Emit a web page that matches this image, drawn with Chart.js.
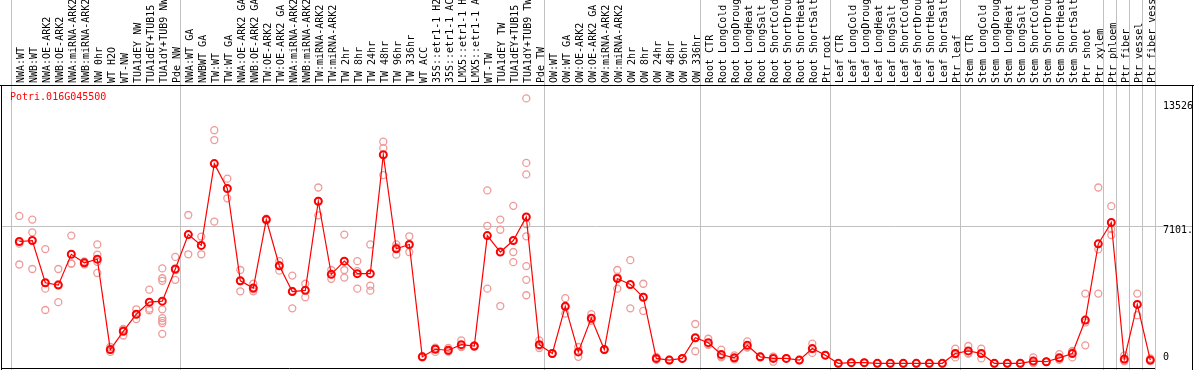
<!DOCTYPE html>
<html>
<head>
<meta charset="utf-8">
<script src="https://cdn.jsdelivr.net/npm/chart.js@4"></script>
<style>
  html, body { margin: 0; padding: 0; background: #fff; }
  #chart { display: block; }
</style>
</head>
<body>
<canvas id="chart" width="1194" height="370"></canvas>
<script>
// --- chart data ---
const geneName = 'Potri.016G045500';

const categories = [
    'NWA:WT', 'NWB:WT', 'NWA:OE-ARK2', 'NWB:OE-ARK2', 'NWA:miRNA-ARK2', 'NWB:miRNA-ARK2',
    'NW 0hr', 'WT H2O', 'WT-NW', 'TUA1dEY NW', 'TUA1dEY+TUB15 NW', 'TUA1dY+TUB9 NW', 'Pde NW',
    'NWA:WT GA', 'NWBWT GA', 'TW:WT', 'TW:WT GA', 'NWA:OE-ARK2 GA', 'NWB:OE-ARK2 GA',
    'TW:OE-ARK2', 'TW:OE-ARK2 GA', 'NWA:miRNA-ARK2 GA', 'NWB:miRNA-ARK2 GA', 'TW:miRNA-ARK2',
    'TW:miRNA-ARK2 GA', 'TW 2hr', 'TW 8hr', 'TW 24hr', 'TW 48hr', 'TW 96hr', 'TW 336hr',
    'WT ACC', '35S::etr1-1 H2O', '35S::etr1-1 ACC', 'LMX5::etr1-1 H2O', 'LMX5::etr1-1 ACC',
    'WT-TW', 'TUA1dEY TW', 'TUA1dEY+TUB15 TW', 'TUA1dY+TUB9 TW', 'Pde TW',
    'OW:WT', 'OW:WT GA', 'OW:OE-ARK2', 'OW:OE-ARK2 GA', 'OW:miRNA-ARK2', 'OW:miRNA-ARK2 GA',
    'OW 2hr', 'OW 8hr', 'OW 24hr', 'OW 48hr', 'OW 96hr', 'OW 336hr',
    'Root CTR', 'Root LongCold', 'Root LongDrought', 'Root LongHeat', 'Root LongSalt',
    'Root ShortCold', 'Root ShortDrought', 'Root ShortHeat', 'Root ShortSalt', 'Ptr root',
    'Leaf CTR', 'Leaf LongCold', 'Leaf LongDrought', 'Leaf LongHeat', 'Leaf LongSalt',
    'Leaf ShortCold', 'Leaf ShortDrought', 'Leaf ShortHeat', 'Leaf ShortSalt', 'Ptr leaf',
    'Stem CTR', 'Stem LongCold', 'Stem LongDrought', 'Stem LongHeat', 'Stem LongSalt',
    'Stem ShortCold', 'Stem ShortDrought', 'Stem ShortHeat', 'Stem ShortSalt', 'Ptr shoot',
    'Ptr xylem', 'Ptr phloem', 'Ptr fiber', 'Ptr vessel', 'Ptr fiber vessel'
];

const meanValues = [
    6308, 6357, 4226, 4108, 5663, 5232, 5416, 857, 1779, 2641, 3250, 3300, 4920,
    6655, 6110, 10237, 8983, 4326, 3959, 7413, 5084, 3781, 3845, 8339, 4653, 5317,
    4687, 4687, 10683, 5941, 6159, 491, 872, 823, 1105, 1036, 6605, 5778, 6357, 7546,
    1105, 659, 3037, 738, 2443, 857, 4440, 4142, 3498, 411, 327, 411, 1452,
    1204, 609, 441, 1070, 491, 411, 411, 327, 907, 575,
    163, 198, 198, 163, 163, 163, 163, 163, 163, 659,
    788, 659, 163, 163, 163, 277, 244, 441, 659, 2344,
    6189, 7264, 377, 3136, 327
];

const replicateValues = [
    [7596, 6200, 5148], [7413, 6769, 4920], [5926, 3929, 2854], [4920, 3250, 4150],
    [6605, 5198, 5190], [5232, 5150, 5300], [6159, 5644, 5282, 4722], [986, 738, 850],
    [1566, 1900, 1870], [2889, 2393, 2640], [3880, 2919, 2839],
    [4950, 4455, 4326, 2889, 2443, 2309, 2195, 1650], [5530, 4375, 4860],
    [7646, 5663, 6650], [6555, 5663, 6110], [11922, 11426, 7314], [9479, 8488, 8980],
    [4871, 3796, 4310], [4177, 3796, 3900], [7462, 7413, 7360], [5317, 4836, 5100],
    [4588, 2938, 3820], [4177, 3498, 3860], [9033, 7626, 8360], [4871, 4425, 4660],
    [6655, 4871, 4489], [5317, 3929, 4810], [6159, 4078, 3830], [11342, 11015, 9657],
    [6159, 5644, 6020], [6570, 5778, 6130], [491, 520, 460], [738, 950, 920],
    [937, 760, 770], [1318, 986, 1010], [1036, 1000, 1070], [8884, 7100, 3929],
    [7413, 6902, 3052], [8106, 5778, 5267],
    [13526, 10272, 9692, 7180, 6570, 5069, 4375, 3597], [1318, 937, 1060],
    [659, 640, 680], [3449, 2671, 2990], [986, 491, 740], [2641, 2309, 2380],
    [857, 830, 880], [4871, 3929, 4520], [5366, 2938, 4120], [4177, 2805, 3510],
    [491, 340, 400], [327, 300, 350], [411, 390, 430], [2146, 773, 1440],
    [1402, 1100, 1110], [857, 461, 510], [560, 400, 360], [1268, 960, 980],
    [491, 470, 510], [244, 500, 490], [411, 400, 420], [327, 310, 340],
    [1155, 689, 880], [575, 560, 590],
    [163, 170, 160], [198, 190, 205], [198, 200, 190], [163, 160, 170], [163, 165, 160],
    [163, 160, 168], [163, 166, 160], [163, 160, 165], [163, 170, 160], [907, 461, 610],
    [1036, 659, 670], [907, 411, 660], [163, 160, 168], [163, 165, 160], [163, 160, 166],
    [461, 200, 170], [244, 240, 250], [626, 350, 350], [788, 461, 730], [3681, 2225, 1070],
    [9033, 5911, 3681], [8091, 6932, 6635], [560, 300, 270], [3681, 2591, 3140], [411, 290, 280]
];

// index where each tissue group starts (vertical separators drawn just before them)
const groupStarts = [0, 13, 41, 53, 63, 73, 84, 85, 86, 87, 88];

const dataMax = 13526;
const axisMax = dataMax * 1.05;
const axisMid = axisMax / 2;

const monoFont = '"DejaVu Sans Mono", "Liberation Mono", monospace';

// flatten the replicate lists into scatter points (x given as the category label)
const replicatePoints = [];
replicateValues.forEach((reps, i) => {
    reps.forEach(v => replicatePoints.push({ x: categories[i], y: v }));
});

// --- frame, separators and mid grid line, drawn behind everything ---
const framePlugin = {
    id: 'frame',
    beforeDraw(chart) {
        const ctx = chart.ctx;
        const x = chart.scales.x;
        const y = chart.scales.y;
        const step = x.getPixelForValue(1) - x.getPixelForValue(0);
        ctx.save();
        ctx.fillStyle = '#fff';
        ctx.fillRect(0, 0, chart.width, chart.height);
        ctx.lineWidth = 1;
        ctx.strokeStyle = '#c0c0c0';
        groupStarts.forEach(g => {
            const px = Math.round(x.getPixelForValue(0) + (g - 0.64) * step) + 0.5;
            ctx.beginPath();
            ctx.moveTo(px, 0);
            ctx.lineTo(px, chart.height);
            ctx.stroke();
        });
        const midY = Math.round(y.getPixelForValue(axisMid)) + 0.5;
        ctx.beginPath();
        ctx.moveTo(1, midY);
        ctx.lineTo(1192, midY);
        ctx.stroke();

        ctx.strokeStyle = '#000';
        const top = chart.chartArea.top + 0.5;
        ctx.beginPath();
        ctx.moveTo(0, top);
        ctx.lineTo(chart.width, top);
        ctx.moveTo(1.5, top);
        ctx.lineTo(1.5, chart.height);
        ctx.moveTo(1192.5, top);
        ctx.lineTo(1192.5, chart.height);
        ctx.moveTo(1, 368.5);
        ctx.lineTo(1155, 368.5);
        ctx.stroke();
        ctx.restore();
    },
    afterDraw(chart) {
        const ctx = chart.ctx;
        const y = chart.scales.y;
        ctx.save();
        ctx.font = '10px ' + monoFont;
        ctx.fillStyle = '#f00';
        ctx.textBaseline = 'middle';
        ctx.fillText(geneName, 10, 97);

        // right-hand value labels
        ctx.fillStyle = '#000';
        ctx.fillText(String(dataMax), 1163, y.getPixelForValue(dataMax) + 8);
        ctx.fillText(String(axisMid).slice(0, 5), 1163, y.getPixelForValue(axisMid) + 5);
        ctx.fillText('0', 1163, y.getPixelForValue(0) - 9);
        ctx.restore();
    }
};

new Chart(document.getElementById('chart'), {
    type: 'line',
    data: {
        labels: categories,
        datasets: [
            {
                label: 'mean',
                data: meanValues,
                borderColor: '#ff0000',
                borderWidth: 1.2,
                pointRadius: 3.5,
                pointBorderWidth: 2,
                pointBorderColor: '#ff0000',
                pointBackgroundColor: 'rgba(0,0,0,0)',
                tension: 0,
                clip: false,
                order: 1
            },
            {
                label: 'replicates',
                data: replicatePoints,
                showLine: false,
                pointRadius: 3.5,
                pointBorderWidth: 1.3,
                pointBorderColor: '#ee9a9a',
                pointBackgroundColor: 'rgba(0,0,0,0)',
                clip: false,
                order: 2
            }
        ]
    },
    options: {
        responsive: false,
        animation: false,
        devicePixelRatio: 1,
        layout: { padding: { left: 19.3, right: 43.7, top: 0, bottom: 1 } },
        plugins: {
            legend: { display: false },
            tooltip: { enabled: false }
        },
        scales: {
            x: {
                type: 'category',
                position: 'top',
                offset: false,
                grid: { display: false, drawTicks: false },
                border: { display: false },
                ticks: {
                    autoSkip: false,
                    minRotation: 90,
                    maxRotation: 90,
                    padding: 2,
                    labelOffset: 14,
                    color: '#000',
                    font: { family: monoFont, size: 10 }
                },
                afterFit(scale) { scale.height = 85; }
            },
            y: {
                display: false,
                min: 129,
                max: axisMax
            }
        }
    },
    plugins: [framePlugin]
});
</script>
</body>
</html>
